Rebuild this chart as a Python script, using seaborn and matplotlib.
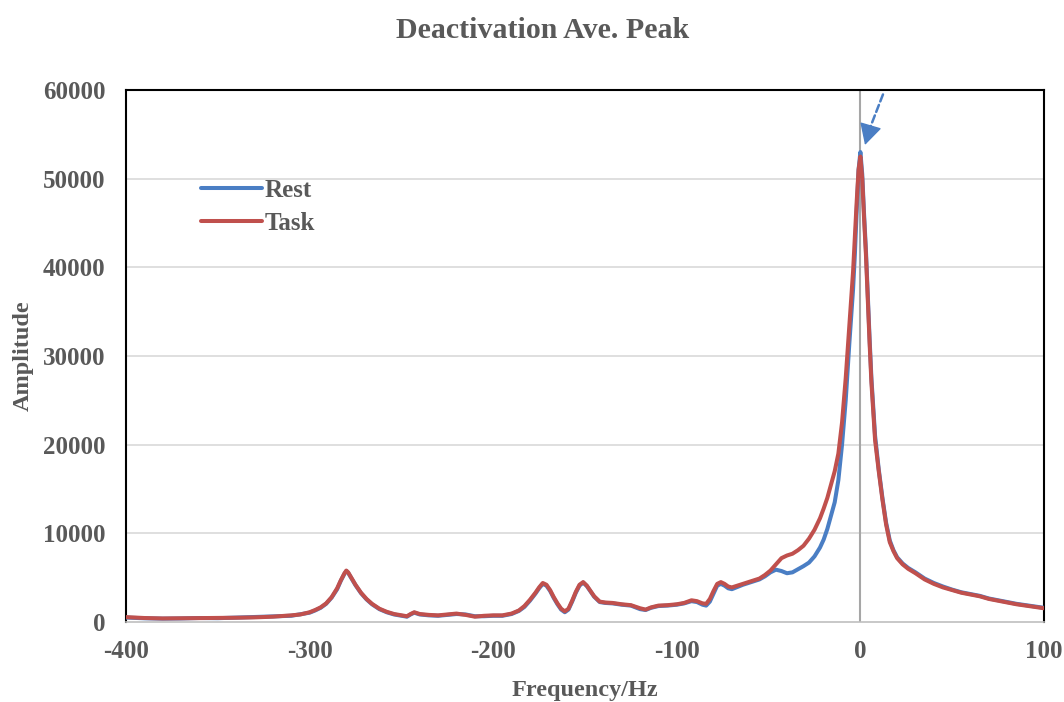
import numpy as np
import pandas as pd
import matplotlib
matplotlib.use("Agg")
import matplotlib.pyplot as plt
import seaborn as sns

freq = [-400, -390, -380, -370, -360, -350, -340, -330, -320, -310, -305, -300,
        -297, -294, -291, -288, -285, -283, -281, -280, -279, -277, -275, -272,
        -269, -266, -262, -258, -254, -250, -247, -245, -243, -240, -235, -230,
        -225, -220, -215, -210, -205, -200, -195, -190, -186, -183, -180, -177,
        -175, -173, -171, -169, -167, -165, -163, -161, -159, -157, -155, -153,
        -151, -149, -147, -145, -142, -139, -135, -130, -125, -120, -117, -114,
        -110, -105, -100, -96, -92, -89, -86, -84, -82, -80, -78, -76,
        -74, -72, -70, -67, -64, -61, -58, -55, -52, -49, -46, -43,
        -40, -37, -34, -31, -28, -25, -22, -20, -18, -16, -14, -12,
        -10, -8, -6, -4, -3, -2, -1, 0, 1, 2, 3, 4,
        5, 6, 8, 10, 12, 14, 16, 18, 20, 23, 26, 30,
        35, 40, 45, 50, 55, 60, 65, 70, 75, 80, 85, 90,
        95, 100]

task = [550, 450, 400, 420, 430, 450, 480, 520, 600, 750, 850, 1100,
        1350, 1650, 2100, 2800, 3800, 4700, 5500, 5800, 5600, 4900, 4200, 3300,
        2600, 2050, 1500, 1150, 900, 750, 650, 900, 1100, 900, 800, 750,
        850, 950, 800, 600, 700, 750, 750, 950, 1300, 1800, 2500, 3300,
        3900, 4400, 4200, 3600, 2800, 2100, 1500, 1200, 1500, 2400, 3400, 4200,
        4500, 4100, 3500, 2900, 2300, 2200, 2150, 2000, 1900, 1550, 1400, 1650,
        1850, 1900, 2000, 2150, 2450, 2350, 2100, 2050, 2600, 3500, 4300, 4500,
        4300, 4000, 3900, 4100, 4300, 4500, 4700, 4900, 5300, 5800, 6500, 7200,
        7500, 7700, 8100, 8600, 9400, 10400, 11700, 12800, 14000, 15500, 17000, 19000,
        22500, 27500, 33500, 39500, 43500, 47500, 51000, 52500, 50000, 45500, 41500, 36500,
        31500, 27000, 20500, 17000, 13800, 11000, 9000, 8000, 7200, 6500, 6000, 5500,
        4800, 4300, 3900, 3600, 3300, 3100, 2900, 2600, 2400, 2200, 2000, 1850,
        1700, 1550]

rest = [500, 420, 380, 400, 450, 430, 500, 560, 650, 700, 880, 1050,
        1300, 1600, 2050, 2750, 3700, 4650, 5450, 5750, 5550, 4850, 4150, 3250,
        2550, 2000, 1450, 1100, 850, 700, 600, 850, 1050, 850, 750, 700,
        800, 900, 850, 650, 650, 700, 700, 900, 1250, 1700, 2400, 3200,
        3800, 4300, 4100, 3500, 2700, 2000, 1400, 1100, 1400, 2300, 3300, 4100,
        4450, 4050, 3450, 2850, 2250, 2150, 2100, 1950, 1850, 1450, 1350, 1600,
        1800, 1850, 1950, 2100, 2350, 2250, 1950, 1850, 2300, 3200, 4100, 4300,
        4100, 3800, 3700, 3950, 4200, 4400, 4600, 4800, 5150, 5600, 5900, 5750,
        5500, 5600, 5950, 6300, 6700, 7400, 8400, 9300, 10500, 12000, 13500, 16000,
        20000, 25000, 31500, 37500, 41500, 46500, 51000, 53000, 50500, 46000, 42000, 37000,
        32000, 27500, 21000, 17200, 14000, 11200, 9200, 8100, 7300, 6600, 6100, 5600,
        4900, 4400, 4000, 3650, 3350, 3150, 2950, 2650, 2450, 2250, 2050, 1900,
        1750, 1600]

assert len(freq) == len(task) == len(rest)

xticks = [-400, -300, -200, -100, 0, 100]
yticks = [0, 10000, 20000, 30000, 40000, 50000, 60000]

df = pd.DataFrame({
    "Frequency": freq * 2,
    "Amplitude": rest + task,
    "Series": ["Rest"] * len(freq) + ["Task"] * len(freq),
})

sns.set_theme(style="white")
plt.rcParams['font.family'] = ['Liberation Serif', 'DejaVu Serif']
plt.rcParams['font.weight'] = 'bold'

fig = plt.figure(figsize=(10.64, 7.02), dpi=100)
ax = fig.add_axes([126/1064, 1 - 622/702, (1044-126)/1064, (622-90)/702])

grey_text = "#595959"
arrow_blue = "#4A7EC4"
for y in yticks[1:-1]:
    ax.axhline(y, color="#D9D9D9", lw=1.2, zorder=0)
ax.axvline(0, color="#A6A6A6", lw=1.5, zorder=1)

sns.lineplot(data=df, x="Frequency", y="Amplitude", hue="Series",
             palette={"Rest": "#4A7EC4", "Task": "#C0504D"},
             linewidth=2.9, ax=ax, sort=False, estimator=None, zorder=3)

ax.set_xlim(-400, 100)
ax.set_ylim(0, 60000)
ax.set_xticks(xticks)
ax.set_xticklabels([str(t) for t in xticks])
ax.set_yticks(yticks)
ax.set_yticklabels([str(t) for t in yticks])
ax.tick_params(axis="y", length=0, labelsize=18, colors=grey_text, pad=15)
ax.tick_params(axis="x", length=0, labelsize=18, colors=grey_text, pad=13)
for lab in ax.get_xticklabels() + ax.get_yticklabels():
    lab.set_fontweight("bold")

for side in ["left", "top", "right"]:
    ax.spines[side].set_color("black")
    ax.spines[side].set_linewidth(1.5)
ax.spines["bottom"].set_color("#BFBFBF")
ax.spines["bottom"].set_linewidth(1.2)

ax.set_xlabel("Frequency/Hz", fontsize=17.5, fontweight="bold", color=grey_text, labelpad=12)
ax.set_ylabel("Amplitude", fontsize=17.5, fontweight="bold", color=grey_text, labelpad=6)
fig.text(543/1064, 1 - 30/702, "Deactivation Ave. Peak", ha="center", va="center",
         fontsize=21.5, fontweight="bold", color=grey_text)

leg = ax.legend(loc="upper left", bbox_to_anchor=(0.057, 0.875), frameon=False,
                fontsize=18, handlelength=2.45, handletextpad=0.1, labelspacing=0.4)
for t in leg.get_texts():
    t.set_color(grey_text)
    t.set_fontweight("bold")

# dashed shaft of the pointer arrow
ax.annotate("", xy=(5.0, 55600), xytext=(12.3, 59500),
            arrowprops=dict(arrowstyle="-", color=arrow_blue, lw=1.8,
                            linestyle=(0, (3, 1.5)), shrinkA=0, shrinkB=0),
            zorder=5)
# solid arrow head
ax.annotate("", xy=(2.5, 53800), xytext=(5.2, 55700),
            arrowprops=dict(arrowstyle="-|>,head_length=0.6,head_width=0.32",
                            color=arrow_blue, lw=1.0, mutation_scale=22,
                            shrinkA=0, shrinkB=0),
            zorder=5)

fig.savefig("out.png", dpi=100, facecolor="white")
